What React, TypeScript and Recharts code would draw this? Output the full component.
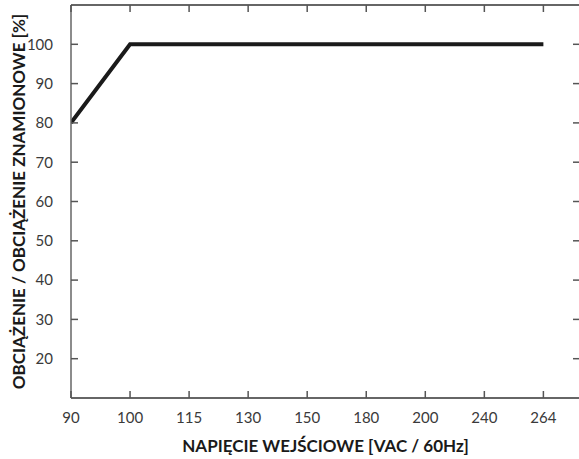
import { LineChart, Line, XAxis, YAxis, Label, ReferenceDot } from "recharts";

// input voltage categories (evenly spaced on the axis)
const voltages = ["90", "100", "115", "130", "150", "180", "200", "240", "264"];
// load / rated load [%] at the first, second and last category
const curveIdx = [0, 1, 8];
const curveLoad = [80, 100, 100];
const yTicks = [20, 30, 40, 50, 60, 70, 80, 90, 100];

const data = curveIdx.map((i, k) => ({ idx: i, load: curveLoad[k] }));
const xTicks = voltages.map((_, i) => i);

const FONT = "Lato, 'DejaVu Sans', sans-serif";
const AXIS = "#555";
const TICK_LEN = 7;
const labelStyle = { fill: "#3a3a3a", fontSize: 15, fontFamily: FONT };
const titleStyle = { fontFamily: FONT, fontWeight: 700, fontSize: 17, fill: "#1a1a1a" };

const X_DOMAIN = [0, 8.62];
const Y_DOMAIN = [10, 110];

// short inward tick mark, dx/dy give the direction into the plot
const tickShape = (dx: number, dy: number) => ({ cx, cy }: any) => (
  <line x1={cx} y1={cy} x2={cx + dx * TICK_LEN} y2={cy + dy * TICK_LEN} stroke={AXIS} strokeWidth={1.5} />
);

export default function App() {
  return (
    <div style={{ position: "absolute", left: 0, top: 0, width: 579, height: 459, overflow: "hidden", background: "#fff" }}>
      <LineChart width={582} height={459} data={data} margin={{ top: 5, right: 2, bottom: 0, left: 0 }}>
        <XAxis
          xAxisId="b"
          dataKey="idx"
          type="number"
          domain={X_DOMAIN}
          ticks={xTicks}
          allowDataOverflow
          height={61}
          tickLine={false}
          tickMargin={8}
          tickFormatter={(v: number) => voltages[v] ?? ""}
          axisLine={{ stroke: "#333", strokeWidth: 1.5 }}
          tick={labelStyle}
          interval={0}
        >
          <Label
            content={({ viewBox }: any) => (
              <text x={viewBox.x + viewBox.width / 2} y={445} textAnchor="middle" dominantBaseline="central" style={titleStyle}>
                NAPIĘCIE WEJŚCIOWE [VAC / 60Hz]
              </text>
            )}
          />
        </XAxis>
        <YAxis
          yAxisId="l"
          domain={Y_DOMAIN}
          ticks={yTicks}
          width={71}
          tickLine={false}
          tickMargin={12}
          axisLine={{ stroke: "#666", strokeWidth: 1.5 }}
          tick={labelStyle}
          interval={0}
        >
          <Label
            content={({ viewBox }: any) => {
              const cx = 18;
              const cy = viewBox.y + viewBox.height / 2;
              return (
                <text x={cx} y={cy} transform={`rotate(-90 ${cx} ${cy})`} textAnchor="middle" dominantBaseline="central" style={titleStyle}>
                  OBCIĄŻENIE / OBCIĄŻENIE ZNAMIONOWE [%]
                </text>
              );
            }}
          />
        </YAxis>

        {/* top frame line */}
        <XAxis xAxisId="tm" dataKey="idx" type="number" orientation="top" domain={X_DOMAIN} ticks={xTicks} allowDataOverflow mirror
          tick={false} tickLine={false} axisLine={{ stroke: "#333", strokeWidth: 1.5 }} interval={0} />
        <Line xAxisId="tm" yAxisId="l" dataKey="load" stroke="none" dot={false} activeDot={false} isAnimationActive={false} />

        {/* inward tick marks on all four sides */}
        {xTicks.map((t) => (
          <ReferenceDot key={`b${t}`} xAxisId="b" yAxisId="l" x={t} y={Y_DOMAIN[0]} ifOverflow="visible" shape={tickShape(0, -1)} />
        ))}
        {xTicks.map((t) => (
          <ReferenceDot key={`t${t}`} xAxisId="b" yAxisId="l" x={t} y={Y_DOMAIN[1]} ifOverflow="visible" shape={tickShape(0, 1)} />
        ))}
        {yTicks.map((t) => (
          <ReferenceDot key={`l${t}`} xAxisId="b" yAxisId="l" x={X_DOMAIN[0]} y={t} ifOverflow="visible" shape={tickShape(1, 0)} />
        ))}
        {yTicks.map((t) => (
          <ReferenceDot key={`r${t}`} xAxisId="b" yAxisId="l" x={X_DOMAIN[1]} y={t} ifOverflow="visible" shape={tickShape(-1, 0)} />
        ))}

        <Line
          xAxisId="b"
          yAxisId="l"
          dataKey="load"
          stroke="#1a1a1a"
          strokeWidth={4}
          dot={false}
          activeDot={false}
          isAnimationActive={false}
        />
      </LineChart>
    </div>
  );
}
